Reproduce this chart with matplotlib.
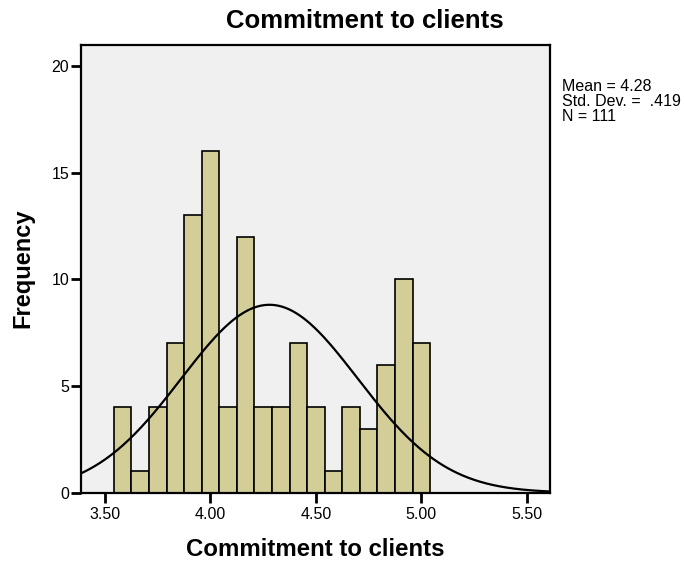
import numpy as np
import matplotlib
matplotlib.use("Agg")
import matplotlib.pyplot as plt

plt.rcParams['font.family'] = ['Liberation Sans', 'DejaVu Sans']

# histogram counts, bins of width 1/12 starting at 3.5417
bin_start = 3.5 + 1 / 24
bin_width = 1 / 12
counts = [4, 1, 4, 7, 13, 16, 4, 12, 4, 4, 7, 4, 1, 4, 3, 6, 10, 7]
mean = 4.28
sd = 0.419
n = 111

xticks = [3.50, 4.00, 4.50, 5.00, 5.50]
xticklabels = ["3.50", "4.00", "4.50", "5.00", "5.50"]
yticks = [0, 5, 10, 15, 20]

fig = plt.figure(figsize=(6.84, 5.65), dpi=100)
ax = fig.add_axes([0.1184, 0.128, 0.6856, 0.793])
ax.set_facecolor("#f0f0f0")

left_edges = bin_start + bin_width * np.arange(len(counts))
ax.bar(left_edges, counts, width=bin_width, align="edge",
       color="#d3ce97", edgecolor="black", linewidth=1.2, zorder=2)

# normal curve scaled to the histogram
xs = np.linspace(3.386, 5.61, 400)
ys = n * bin_width * np.exp(-0.5 * ((xs - mean) / sd) ** 2) / (sd * np.sqrt(2 * np.pi))
ax.plot(xs, ys, color="black", linewidth=1.6, zorder=3)

ax.set_xlim(3.386, 5.61)
ax.set_ylim(0, 21)
ax.set_xticks(xticks)
ax.set_xticklabels(xticklabels)
ax.set_yticks(yticks)
ax.tick_params(direction="out", length=7.5, width=2, labelsize=11.5)
ax.tick_params(axis="x", pad=2.5)
ax.tick_params(axis="y", pad=1)
for s in ax.spines.values():
    s.set_linewidth(1.6)

fig.text(365 / 684, 1 - 21 / 565, "Commitment to clients", fontsize=18.5,
         fontweight="bold", ha="center", va="center")
ax.set_xlabel("Commitment to clients", fontsize=17.3, fontweight="bold", labelpad=12)
ax.set_ylabel("Frequency", fontsize=17, fontweight="bold", labelpad=12)

fig.text(562 / 684, 1 - 79 / 565, "Mean = 4.28\nStd. Dev. =  .419\nN = 111",
         fontsize=11.5, va="top", ha="left", linespacing=0.98)

fig.savefig("out.png", dpi=100)
